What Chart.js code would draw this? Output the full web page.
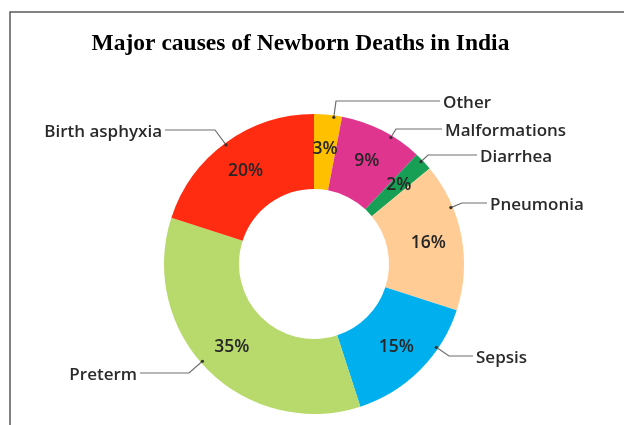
<!DOCTYPE html>
<html>
<head>
<meta charset="utf-8">
<title>Major causes of Newborn Deaths in India</title>
<script src="https://cdn.jsdelivr.net/npm/chart.js@4.4.1/dist/chart.umd.min.js"></script>
<style>
  html, body { margin: 0; padding: 0; background: #fff; }
  canvas { display: block; }
</style>
</head>
<body>
<canvas id="newbornChart" width="624" height="425"></canvas>
<script>
// dados do gráfico (em sentido horário, a partir do topo)
const causes = ['Other', 'Malformations', 'Diarrhea', 'Pneumonia', 'Sepsis', 'Preterm', 'Birth asphyxia'];
const shares = [3, 9, 2, 16, 15, 35, 20];
const sliceColors = ['#FFC000', '#E0358F', '#17A055', '#FFCC96', '#00B0EE', '#B8D96B', '#FF2C12'];
const chartTitle = 'Major causes of Newborn Deaths in India';

// posição das chamadas, relativa ao centro do gráfico: [cotovelo x, linha y, texto x]
const calloutLayout = [
    [22, -163, 129],
    [82, -135, 131],
    [114, -109, 166],
    [148, -61, 176],
    [135, 92, 162],
    [-125, 109, -177],
    [-99, -134, -152]
];

const labelsPlugin = {
    id: 'rotulosRosca',
    afterDraw(chart) {
        const ctx = chart.ctx;
        const arcs = chart.getDatasetMeta(0).data;
        const total = shares.reduce((a, b) => a + b, 0);

        ctx.save();

        // moldura
        ctx.strokeStyle = '#5a5a5a';
        ctx.lineWidth = 1.5;
        ctx.beginPath();
        ctx.moveTo(10, 425);
        ctx.lineTo(10, 12);
        ctx.lineTo(624, 12);
        ctx.stroke();

        // título
        ctx.fillStyle = '#000';
        ctx.font = 'bold 23.5px "Liberation Serif", "Times New Roman", serif';
        ctx.textAlign = 'center';
        ctx.textBaseline = 'alphabetic';
        ctx.fillText(chartTitle, 300.5, 50);

        arcs.forEach((arc, i) => {
            const p = arc.getProps(['x', 'y', 'startAngle', 'endAngle', 'innerRadius', 'outerRadius'], true);
            const mid = (p.startAngle + p.endAngle) / 2;
            const r = p.innerRadius + (p.outerRadius - p.innerRadius) * 0.55;

            // percentual dentro da fatia
            ctx.fillStyle = '#262626';
            ctx.font = '600 17.5px "Open Sans", sans-serif';
            ctx.textAlign = 'center';
            ctx.textBaseline = 'middle';
            const pct = Math.round(shares[i] / total * 100) + '%';
            ctx.fillText(pct, p.x + Math.cos(mid) * r, p.y + Math.sin(mid) * r + 1);

            // linha de chamada
            const [ex, ly, tx] = calloutLayout[i];
            const elbowX = p.x + ex;
            const lineY = p.y + ly;
            const ang = Math.atan2(ly, ex);
            const ax = p.x + Math.cos(ang) * (p.outerRadius - 2);
            const ay = p.y + Math.sin(ang) * (p.outerRadius - 2);
            const right = tx > ex;
            const endX = p.x + tx + (right ? -3 : 3);

            ctx.strokeStyle = '#6e6e6e';
            ctx.lineWidth = 1.2;
            ctx.beginPath();
            ctx.moveTo(ax, ay);
            ctx.lineTo(elbowX, lineY);
            ctx.lineTo(endX, lineY);
            ctx.stroke();

            ctx.fillStyle = '#333';
            ctx.beginPath();
            ctx.arc(ax, ay, 1.6, 0, Math.PI * 2);
            ctx.fill();

            // nome da causa
            ctx.fillStyle = '#2a2a2a';
            ctx.font = '600 17px "Open Sans", sans-serif';
            ctx.textAlign = right ? 'left' : 'right';
            ctx.textBaseline = 'middle';
            ctx.fillText(causes[i], p.x + tx, lineY + 2);
        });

        ctx.restore();
    }
};

const ctx = document.getElementById('newbornChart').getContext('2d');
window.newbornChart = new Chart(ctx, {
    type: 'doughnut',
    data: {
        labels: causes,
        datasets: [{
            data: shares,
            backgroundColor: sliceColors,
            borderWidth: 0
        }]
    },
    options: {
        responsive: false,
        animation: false,
        cutout: '50%',
        layout: {
            padding: { left: 164, right: 160, top: 114, bottom: 11 }
        },
        plugins: {
            legend: { display: false },
            tooltip: { enabled: false },
            title: { display: false }
        }
    },
    plugins: [labelsPlugin]
});
</script>
</body>
</html>
